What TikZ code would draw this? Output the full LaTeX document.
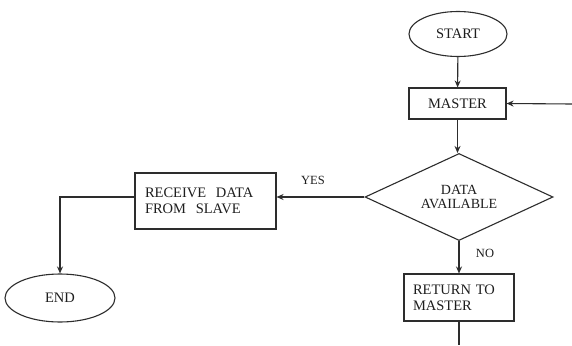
\documentclass[tikz,border=0pt]{standalone}
\usepackage{fontspec}
\setmainfont{Liberation Serif}
\usepackage{tikz}
\usetikzlibrary{arrows.meta,shapes,positioning}
\usepackage{xcolor}
\definecolor{fcline}{RGB}{45,45,45}
\definecolor{fctext}{RGB}{30,30,30}
\tikzstyle{terminal} = [ellipse, minimum width=98pt, minimum height=45pt, inner sep=0pt, draw=fcline, line width=1.1pt, text=fctext, font=\fontsize{14.5}{16}\selectfont]
\tikzstyle{process} = [rectangle, minimum width=97pt, minimum height=31pt, draw=fcline, line width=1.1pt, text=fctext, font=\fontsize{14.5}{16}\selectfont]
\tikzstyle{decision} = [diamond, aspect=2, minimum width=188pt, minimum height=87pt, inner sep=0pt, draw=fcline, line width=1.1pt, text=fctext, align=center, font=\fontsize{14}{16}\selectfont]
\tikzstyle{arrow} = [line width=1.1pt, color=fcline, -{Stealth[length=7pt,width=6pt]}]
\tikzstyle{line} = [line width=1.1pt, color=fcline]
\tikzstyle{answer} = [text=fctext, font=\fontsize{12.5}{14}\selectfont]

\begin{document}
\begin{tikzpicture}[x=1pt,y=-1pt]
\useasboundingbox (0,0) rectangle (572,345);
\fill[white] (0,0) rectangle (572,345);

% Main column
\node[terminal] (start) at (458,34) {START};
\node[process] (master) at (457.5,103.5) {MASTER};
\node[decision] (data) at (459,197) {DATA\\[-2pt]AVAILABLE};
\node[process, minimum width=110pt, minimum height=47pt, text width=92pt, inner xsep=9pt, align=left] (return) at (459,297.5) {RETURN TO\\MASTER};

% Left branch
\node[process, minimum width=141pt, minimum height=56pt, text width=121pt, inner xsep=10pt, align=left] (recv) at (205.5,201) {RECEIVE\ \ DATA\\FROM\ \ SLAVE};
\node[terminal, minimum width=110pt, minimum height=48pt] (end) at (60,298) {END};

% Free ends
\coordinate (back) at (572,104);
\coordinate (down) at (459,345);

% Arrows
\draw[arrow] (start) -- (master);
\draw[arrow] (back) -- (master.east);
\draw[arrow] (master.south) -- (master.south |- data.north);
\draw[arrow] (data.west) -- (data.west -| recv.east);
\draw[arrow] (data.south) -- (data.south |- return.north);
\draw[arrow] (recv.west |- data.west) -- (end.north |- data.west) -- (end.north);
\draw[line] (return.south) -- (down);

% Labels
\node[answer] (yes) at (313,180) {YES};
\node[answer] (no) at (485,253) {NO};
\end{tikzpicture}
\end{document}
